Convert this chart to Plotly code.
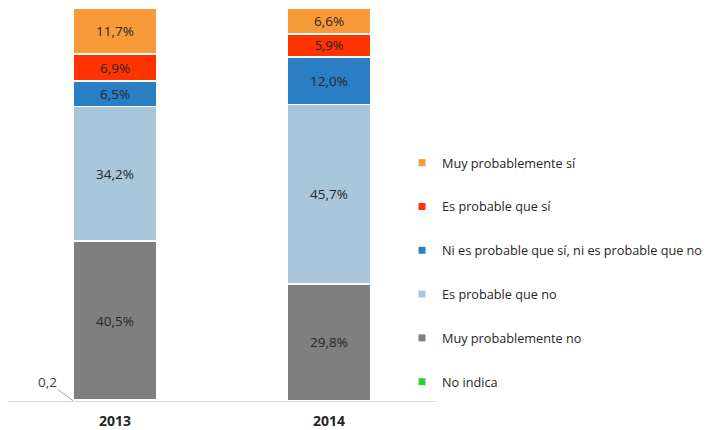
import plotly.graph_objects as go

years = ["2013", "2014"]
no_indica = [0.2, 0.0]
muy_prob_no = [40.5, 29.8]
prob_no = [34.2, 45.7]
ni_ni = [6.5, 12.0]
prob_si = [6.9, 5.9]
muy_prob_si = [11.7, 6.6]

series = [
    ("No indica", no_indica, "#33CC33"),
    ("Muy probablemente no", muy_prob_no, "#7F7F7F"),
    ("Es probable que no", prob_no, "#A9C6DB"),
    ("Ni es probable que sí, ni es probable que no", ni_ni, "#2A7EC4"),
    ("Es probable que sí", prob_si, "#FF3300"),
    ("Muy probablemente sí", muy_prob_si, "#F99A3A"),
]

FONT = "Open Sans, sans-serif"

fig = go.Figure()
n = len(series)
for i, (name, vals, color) in enumerate(series):
    show_text = name != "No indica"
    fig.add_trace(go.Bar(
        x=years, y=vals, name=name,
        marker=dict(color=color, line=dict(color="white", width=1.5)),
        texttemplate="%{y:.1f}%" if show_text else None,
        textposition="inside" if show_text else "none",
        insidetextanchor="middle",
        textfont=dict(color="#262626", size=13.5, family=FONT),
        showlegend=False,
        hoverinfo="skip",
    ))
    fig.add_trace(go.Scatter(
        x=[None], y=[None], mode="markers", name=name,
        marker=dict(symbol="square", size=7, color=color),
        legendgroup=name, legendrank=n - i, showlegend=True,
    ))

fig.add_annotation(
    x=0, y=no_indica[0] / 2, xref="x", yref="y",
    xshift=-42, text="0,2", showarrow=True,
    ax=-26, ay=-19, arrowhead=0, arrowwidth=1, arrowcolor="#A6A6A6",
    font=dict(size=13.5, color="#404040", family=FONT),
)

fig.update_layout(
    width=713, height=430,
    barmode="stack", bargap=0.61,
    separators=",.",
    font=dict(family=FONT, size=13, color="#262626"),
    plot_bgcolor="white", paper_bgcolor="white",
    margin=dict(l=0, r=285, t=0, b=37, autoexpand=False),
    xaxis=dict(
        showline=True, linecolor="#D9D9D9", linewidth=1,
        tickfont=dict(size=14, color="#262626", family=FONT, weight="bold"),
        ticks="outside", ticklen=7, tickcolor="rgba(0,0,0,0)", showgrid=False,
    ),
    yaxis=dict(range=[0, 100], visible=False, showgrid=False),
    legend=dict(
        x=0.9206, xanchor="left", y=0.644, yanchor="top",
        traceorder="grouped", tracegroupgap=24.3,
        font=dict(size=12.7, color="#262626", family=FONT),
        itemwidth=30,
    ),
)

fig.write_html("out.html")
